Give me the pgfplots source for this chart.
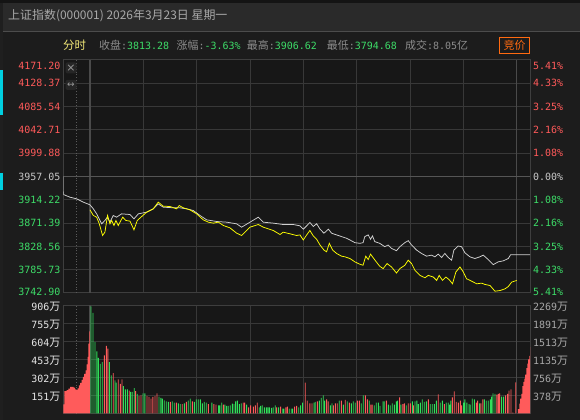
\documentclass[border=0pt]{standalone}
\usepackage{pgfplots}
\pgfplotsset{compat=1.18}
\usepackage{pgfplotstable}
\usepackage{fontspec}
\setmainfont{DejaVu Sans Mono}
\newfontfamily\cjk{Noto Sans CJK SC}
\newfontfamily\sym{DejaVu Sans}

\definecolor{pagebg}{HTML}{1C1C1C}
\definecolor{plotbg}{HTML}{171717}
\definecolor{titlebg}{HTML}{2A2A2A}
\definecolor{gridc}{HTML}{383838}
\definecolor{thickc}{HTML}{4A4A4A}
\definecolor{midc}{HTML}{555555}
\definecolor{framec}{HTML}{3E3E3E}
\definecolor{dotc}{HTML}{5A5A5A}
\definecolor{upr}{HTML}{FF5A5A}
\definecolor{dng}{HTML}{3DDC68}
\definecolor{zeroc}{HTML}{C8C8C8}
\definecolor{barred}{HTML}{FF5B5B}
\definecolor{bargreen}{HTML}{30E05A}
\definecolor{idxline}{HTML}{D0D0D0}
\definecolor{avgline}{HTML}{FFFF00}
\definecolor{orangec}{HTML}{FF6A10}
\definecolor{rowgray}{HTML}{8C8C8C}
\definecolor{titlec}{HTML}{A8A8A8}
\definecolor{fenshi}{HTML}{F2E878}
\definecolor{volwhite}{HTML}{E6E6E6}
\definecolor{volgray}{HTML}{A8A8A8}
\definecolor{iconbg}{HTML}{262626}
\definecolor{iconfg}{HTML}{9A9A9A}
\definecolor{edgecyan}{HTML}{00D0E0}

% time axis: -15..0 call auction, 0..240 trading minutes, 240..247.5 after close
% index (white) line
\pgfplotstableread{
t p
-15 3957.05
-14.95 3924.0
-11.25 3919.0
-7.5 3916.0
-3.75 3909.9
0 3905.0
1.9 3897.6
3.75 3888.4
6.6 3870.0
8.4 3876.2
9.75 3882.3
11.25 3873.1
13.1 3885.4
15 3882.3
17.8 3888.4
22.5 3887.2
24.75 3879.2
27.2 3888.4
31.9 3891.5
35.6 3897.6
38.4 3906.6
41.2 3900.7
46.9 3899.5
50.6 3899.5
54.4 3897.6
58.1 3894.5
61.9 3885.4
65.6 3877.4
71.25 3874.3
76.9 3873.1
82.5 3870.0
85.3 3863.9
90 3873.1
94.7 3882.3
97.5 3873.1
103.1 3871.3
108.7 3868.8
114.4 3868.8
118.1 3866.4
120 3860.2
121.9 3866.4
123.7 3872.6
125.6 3865.2
127.5 3870.2
129.4 3860.2
131.6 3852.8
134.1 3860.2
135.9 3852.8
138.7 3849.7
141.5 3846.6
144.3 3843.5
146.2 3840.4
149.0 3835.4
151.8 3834.2
153.6 3835.4
154.6 3846.6
156.5 3849.7
157.8 3841.6
158.9 3847.9
160.2 3837.3
163.0 3834.2
165.8 3828.0
167.7 3831.1
169.6 3824.9
172.4 3820.6
174.3 3828.0
177.1 3835.4
179.0 3839.1
180.9 3831.1
183.7 3821.8
186.5 3815.6
189.3 3810.6
192.1 3812.5
194.0 3809.4
195.9 3814.4
197.8 3808.2
199.6 3815.6
201.5 3808.2
203.4 3803.2
204.7 3821.8
207.1 3829.2
209.0 3828.0
210.9 3816.8
213.7 3809.4
216.5 3806.3
219.3 3809.4
221.2 3812.5
224.0 3804.4
226.8 3795.0
229.6 3800.1
232.5 3802.0
235.3 3806.3
236.6 3813.3
240 3813.28
247.5 3813.28
}\idxdata

% average (yellow) line
\pgfplotstableread{
t p
0 3895.8
1.9 3885.4
3.75 3882.3
5.25 3870.0
7.1 3848.6
8.4 3854.7
9.9 3885.4
11.25 3870.0
12.2 3876.2
13.5 3867.0
14.6 3876.2
15.9 3867.0
16.9 3873.1
18.4 3882.3
20.2 3876.2
22.5 3875.0
24.75 3859.0
26.6 3876.2
29.1 3883.5
31.9 3891.5
35.6 3897.6
38.4 3909.9
41.2 3902.5
45 3901.9
48.7 3897.6
50.2 3903.7
52.5 3899.5
56.2 3895.8
60 3888.4
63.7 3877.4
66.6 3873.1
69.4 3871.3
72.2 3873.1
75 3867.0
78.7 3862.7
82.5 3852.9
85.3 3848.6
90 3863.9
94.7 3868.8
97.5 3863.9
103.1 3857.8
106.9 3850.4
108.7 3854.7
112.5 3851.7
116.2 3848.6
118.1 3849.7
120 3840.4
121.9 3849.7
123.7 3857.8
125.6 3847.8
127.5 3841.6
129.4 3831.1
131.6 3821.8
133.1 3818.7
134.6 3834.2
136.5 3821.8
138.7 3815.6
141.5 3810.6
143.4 3809.4
146.2 3806.3
149.0 3800.1
151.8 3795.8
153.6 3793.9
155.1 3810.6
156.5 3804.4
157.8 3814.4
159.6 3806.3
161.5 3798.2
163.0 3792.0
164.9 3787.7
167.1 3797.0
169.6 3790.8
172.4 3779.6
174.3 3787.7
177.1 3793.9
179.0 3803.2
180.9 3797.0
182.8 3784.6
185.6 3775.3
188.4 3770.9
190.3 3775.3
193.1 3772.2
195.0 3766.0
196.4 3775.3
198.3 3766.0
200.2 3772.2
202.1 3767.2
203.9 3759.8
205.8 3781.5
208.1 3790.8
210.0 3781.5
211.8 3769.1
214.6 3764.8
217.5 3759.8
220.3 3761.0
222.2 3758.6
225.0 3756.7
227.8 3746.2
230.6 3747.4
233.4 3750.5
235.3 3754.8
237.2 3762.9
240 3766.0
}\avgdata

% call-auction volume (万)
\pgfplotstableread{
t v
-15 75
-14.4 187
-13.1 195
-12.2 207
-11.2 221
-9.9 221
-9.2 215
-8.4 201
-7.7 196
-7.0 210
-6.2 235
-5.5 255
-4.7 280
-4.0 305
-3.3 330
-2.5 360
-1.9 410
-1.3 473
-0.9 584
-0.4 688
0 688
}\auctionvol

% after-close volume (万)
\pgfplotstableread{
t v
240.7 34
241.5 81
242.0 123
242.6 162
243.2 229
243.7 263
244.3 291
244.8 324
245.4 380
246.0 416
246.5 453
247.1 481
247.5 556
}\postvol

% minute volume, up minutes (万)
\pgfplotstableread{
t v
8.1 486
9.2 565
10.1 542
13.1 336
15.9 285
17.1 246
18.0 285
22.1 190
25.7 185
27.6 145
28.7 151
32.1 145
33.2 137
34.3 123
35.4 137
36.6 145
37.7 168
45.2 95
48.6 89
51.9 78
54.2 95
57.6 101
66.6 78
69.7 78
70.9 73
75.0 73
86.2 89
87.0 89
89.2 50
90.4 67
91.9 56
93.0 67
94.1 89
105.0 50
107.2 56
110.2 50
111.0 56
115.1 56
116.2 62
121.1 257
122.2 106
123.7 84
124.9 84
127.9 101
133.1 117
134.0 101
136.9 67
138.0 84
139.1 84
141.4 106
143.6 112
145.9 89
150.4 106
151.5 106
154.9 151
156.0 117
158.0 73
158.8 73
166.7 106
174.2 134
176.0 78
176.8 84
179.0 84
180.2 84
182.0 67
190.3 117
195.9 159
199.3 78
203.8 134
204.9 184
206.0 95
207.2 89
208.3 106
209.0 67
217.3 89
218.0 106
219.9 84
221.0 117
228.9 157
229.7 162
230.4 168
233.8 151
234.9 162
235.7 190
236.8 201
237.9 6
239.5 260
}\volup

% minute volume, down minutes (万)
\pgfplotstableread{
t v
0.6 897
1.7 842
2.8 598
3.9 520
4.7 464
5.8 414
6.9 430
10.9 430
12.0 319
14.1 277
14.8 257
18.8 229
19.9 201
21.0 201
22.9 179
23.8 179
24.9 212
26.6 162
29.8 168
30.9 168
38.8 140
39.9 129
40.7 123
41.8 109
42.9 101
44.1 95
46.3 101
47.4 89
49.7 84
50.8 78
53.1 84
55.3 106
56.4 123
58.7 95
59.8 117
60.9 117
62.1 117
63.2 84
64.3 95
65.4 89
68.6 89
72.4 67
73.1 67
74.1 89
75.9 73
76.9 62
77.8 62
78.9 67
80.1 81
81.0 78
81.9 101
82.9 106
84.0 78
85.1 84
88.1 73
95.2 50
96.0 62
96.9 67
98.1 50
99.2 50
100.1 50
100.9 50
102.2 45
103.1 50
104.2 67
106.1 50
108.4 39
109.1 39
112.1 39
113.2 39
114.0 39
117.4 50
118.5 67
119.6 89
126.0 89
126.7 95
129.0 106
130.1 129
131.2 151
132.0 106
135.2 67
136.1 84
140.2 106
142.5 73
144.7 101
147.0 84
148.1 101
149.2 89
152.6 84
153.7 151
157.1 106
159.9 67
161.0 89
162.2 89
163.1 62
164.8 101
165.5 101
167.8 73
168.9 67
170.0 84
171.2 73
172.3 101
173.0 106
174.9 73
177.9 67
181.3 101
182.8 101
183.9 106
184.7 78
185.8 89
186.9 117
188.0 95
189.2 101
191.4 78
192.5 78
193.7 78
194.8 106
197.0 89
198.2 106
200.4 89
201.5 89
202.3 73
203.0 106
210.2 89
210.9 117
212.0 89
213.2 78
213.9 73
215.0 123
216.2 117
219.2 84
221.8 117
222.9 106
224.0 106
225.2 117
225.9 140
226.7 168
227.8 162
231.5 140
232.7 140
}\voldown

\pgfplotsset{
  panel/.style={
    anchor=south west, scale only axis, width=466.7bp,
    xmin=-15, xmax=247.5,
    axis background/.style={fill=plotbg},
    axis line style={draw=framec, line width=1bp},
    xtick={30,60,90,120,150,180,210},
    xticklabels={}, yticklabels={},
    major tick length=0pt,
    grid=major,
    major grid style={draw=gridc, line width=0.9bp},
  }
}

\begin{document}
\begin{tikzpicture}
\useasboundingbox (0bp,0bp) rectangle (580bp,420bp);
\fill[pagebg] (0bp,0bp) rectangle (580bp,420bp);
% header bars
\fill[black!92] (0bp,417.3bp) rectangle (580bp,420bp);
\fill[titlebg] (0bp,388.8bp) rectangle (580bp,417.3bp);
\draw[black!70, line width=0.8bp] (0bp,388.6bp) -- (580bp,388.6bp);
\fill[black!88] (0bp,0bp) rectangle (2.8bp,417.3bp);
\fill[edgecyan] (0bp,305bp) rectangle (2.5bp,350bp);
\fill[edgecyan] (0bp,230bp) rectangle (2.5bp,247bp);

\node[anchor=west, inner sep=0, text=titlec, font=\cjk\fontsize{12}{14}\selectfont] at (8bp,404bp) {上证指数(000001) 2026年3月23日 星期一};

\begin{scope}[every node/.style={anchor=west, inner sep=0, font=\fontsize{10}{12}\selectfont}]
\node[text=fenshi] at (63bp,375bp) {\cjk\fontsize{11.5}{13}\selectfont 分时};
\node[text=rowgray] at (99bp,375bp) {{\cjk\fontsize{11}{13}\selectfont 收盘}:\textcolor{dng}{3813.28}};
\node[text=rowgray] at (176.5bp,375bp) {{\cjk\fontsize{11}{13}\selectfont 涨幅}:\textcolor{dng}{-3.63\%}};
\node[text=rowgray] at (246.7bp,375bp) {{\cjk\fontsize{11}{13}\selectfont 最高}:\textcolor{dng}{3906.62}};
\node[text=rowgray] at (326.7bp,375bp) {{\cjk\fontsize{11}{13}\selectfont 最低}:\textcolor{dng}{3794.68}};
\node[text=rowgray] at (405bp,375bp) {{\cjk\fontsize{11}{13}\selectfont 成交}:8.05{\cjk\fontsize{11}{13}\selectfont 亿}};
\end{scope}
\draw[orangec, line width=0.9bp] (499.8bp,367bp) rectangle (529.5bp,383bp);
\node[inner sep=0, text=orangec, font=\cjk\fontsize{11}{13}\selectfont] at (514.7bp,375bp) {竞价};

% price panel
\begin{axis}[panel, at={(63.3bp,127bp)}, height=233bp,
  ymin=3742.90, ymax=4171.20,
  ytick={3785.73,3828.56,3871.39,3914.22,3999.88,4042.71,4085.54,4128.37}]
  \draw[dotc, dotted, line width=0.8bp] (axis cs:-7.5,3742.90) -- (axis cs:-7.5,4171.20);
  \draw[thickc, line width=1.5bp] (axis cs:0,3742.90) -- (axis cs:0,4171.20);
  \draw[thickc, line width=1.5bp] (axis cs:240,3742.90) -- (axis cs:240,4171.20);
  \draw[midc, line width=1.4bp] (axis cs:-15,3957.05) -- (axis cs:247.5,3957.05);
  \addplot[idxline, line width=0.75bp] table[x=t, y=p] {\idxdata};
  \addplot[avgline, line width=0.75bp] table[x=t, y=p] {\avgdata};
\end{axis}

% volume panel
\begin{axis}[panel, at={(63.3bp,6.7bp)}, height=108bp,
  ymin=0, ymax=906,
  ytick={151,302,453,604,755}]
  \draw[dotc, dotted, line width=0.8bp] (axis cs:-7.5,0) -- (axis cs:-7.5,906);
  \draw[thickc, line width=1.5bp] (axis cs:0,0) -- (axis cs:0,906);
  \draw[thickc, line width=1.5bp] (axis cs:240,0) -- (axis cs:240,906);
  \addplot[fill=barred, draw=none, const plot] table[x=t, y=v] {\auctionvol} \closedcycle;
  \addplot[fill=barred, draw=none, const plot] table[x=t, y=v] {\postvol} \closedcycle;
  \addplot[ybar, bar width=0.5, bar shift=0pt, fill=barred, draw=none] table[x=t, y=v] {\volup};
  \addplot[ybar, bar width=0.5, bar shift=0pt, fill=bargreen, draw=none] table[x=t, y=v] {\voldown};
\end{axis}

% icons in the corner of the price panel
\fill[iconbg, rounded corners=1.5bp] (65.5bp,346.5bp) rectangle (76.5bp,357.5bp);
\node[inner sep=0, text=iconfg, font=\sym\fontsize{11}{12}\selectfont] at (71bp,352bp) {×};
\fill[iconbg, rounded corners=1.5bp] (65.5bp,330bp) rectangle (76.5bp,340bp);
\node[inner sep=0, text=iconfg, font=\sym\fontsize{9}{11}\selectfont] at (71bp,335bp) {↔};

% price and percentage scales
\foreach \yy/\lv/\rv/\cc in {354/4171.20/5.41/upr, 336.7/4128.37/4.33/upr, 313.4/4085.54/3.25/upr, 290.1/4042.71/2.16/upr, 266.8/3999.88/1.08/upr, 243.5/3957.05/0.00/zeroc, 220.2/3914.22/1.08/dng, 196.9/3871.39/2.16/dng, 173.6/3828.56/3.25/dng, 150.3/3785.73/4.33/dng, 128/3742.90/5.41/dng}{
  \node[anchor=east, inner sep=0, text=\cc, font=\fontsize{10}{12}\selectfont] at (60.5bp,\yy bp) {\lv};
  \node[anchor=west, inner sep=0, text=\cc, font=\fontsize{10}{12}\selectfont] at (533bp,\yy bp) {\rv\%};
}
% volume scales
\foreach \yy/\lv/\rv in {113.5/906/2269, 95.5/755/1891, 77.5/604/1513, 59.5/453/1135, 41.5/302/756, 23.5/151/378}{
  \node[anchor=east, inner sep=0, text=volwhite, font=\fontsize{10}{12}\selectfont] at (60.5bp,\yy bp) {\lv{\cjk\fontsize{11}{13}\selectfont 万}};
  \node[anchor=west, inner sep=0, text=volgray, font=\fontsize{10}{12}\selectfont] at (533bp,\yy bp) {\rv{\cjk\fontsize{11}{13}\selectfont 万}};
}
\end{tikzpicture}
\end{document}
